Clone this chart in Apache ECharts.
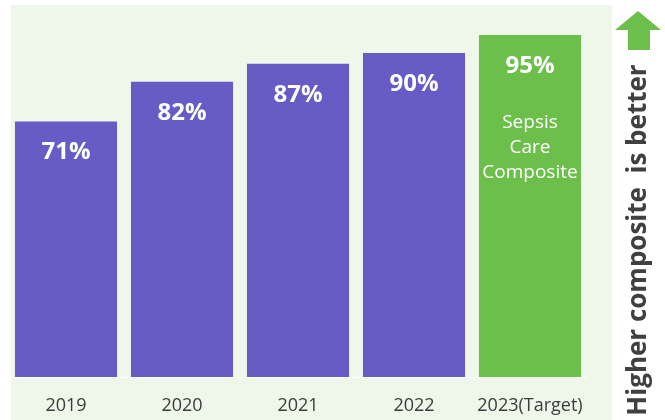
<!DOCTYPE html>
<html>
<head>
<meta charset="utf-8">
<script src="https://cdn.jsdelivr.net/npm/echarts@6/dist/echarts.min.js"></script>
<style>
  html, body { margin: 0; padding: 0; background: #ffffff; }
  #chart { width: 665px; height: 420px; }
</style>
</head>
<body>
<div id="chart"></div>
<script>
// Sepsis care composite by year
const years = ['2019', '2020', '2021', '2022', '2023(Target)'];
const composite = [71, 82, 87, 90, 95];
const targetNote = ['Sepsis', 'Care', 'Composite'];
const sideCaption = 'Higher composite  is better';

const PURPLE = '#675cc5';
const GREEN = '#6cbf4a';
const FONT = '"Open Sans", "Noto Sans", sans-serif';

const barData = composite.map((v, i) => {
  const isTarget = i === years.length - 1;
  const item = { value: v, itemStyle: { color: isTarget ? GREEN : PURPLE } };
  if (isTarget) {
    item.label = {
      formatter: p => '{v|' + p.value + '%}\n{g| }\n' + targetNote.map(t => '{s|' + t + '}').join('\n')
    };
  }
  return item;
});

const chart = echarts.init(document.getElementById('chart'), null, { renderer: 'canvas' });
chart.setOption({
  animation: false,
  backgroundColor: '#ffffff',
  grid: { left: 8, right: 77, top: 17, bottom: 43 },
  xAxis: {
    type: 'category',
    data: years,
    axisLine: { show: true, lineStyle: { color: '#ffffff', width: 1 } },
    axisTick: { show: false },
    axisLabel: { color: '#3c3c3c', fontSize: 18, fontFamily: FONT, margin: 20, interval: 0 }
  },
  yAxis: {
    type: 'value',
    min: 0,
    max: 100,
    show: false
  },
  graphic: [
    {
      type: 'rect',
      z: -10,
      silent: true,
      shape: { x: 11, y: 5, width: 601, height: 415 },
      style: { fill: '#eff6ea' }
    },
    {
      type: 'polygon',
      silent: true,
      shape: { points: [[638, 11], [661, 30], [650, 30], [650, 50], [628, 50], [628, 30], [615, 30]] },
      style: { fill: GREEN }
    },
    {
      type: 'text',
      silent: true,
      x: 639,
      y: 240,
      rotation: Math.PI / 2,
      style: {
        text: sideCaption,
        fill: '#404040',
        font: 'bold 26px ' + FONT,
        align: 'center',
        verticalAlign: 'middle'
      }
    }
  ],
  series: [{
    type: 'bar',
    data: barData,
    barCategoryGap: '12%',
    label: {
      show: true,
      position: 'insideTop',
      distance: 19,
      formatter: '{c}%',
      color: '#ffffff',
      fontSize: 24,
      fontWeight: 'bold',
      fontFamily: FONT,
      lineHeight: 24,
      rich: {
        v: { color: '#ffffff', fontSize: 24, fontWeight: 'bold', fontFamily: FONT, lineHeight: 24 },
        g: { fontSize: 10, lineHeight: 32 },
        s: { color: '#ffffff', fontSize: 19, fontWeight: 'normal', fontFamily: FONT, lineHeight: 25 }
      }
    }
  }]
});
</script>
</body>
</html>
